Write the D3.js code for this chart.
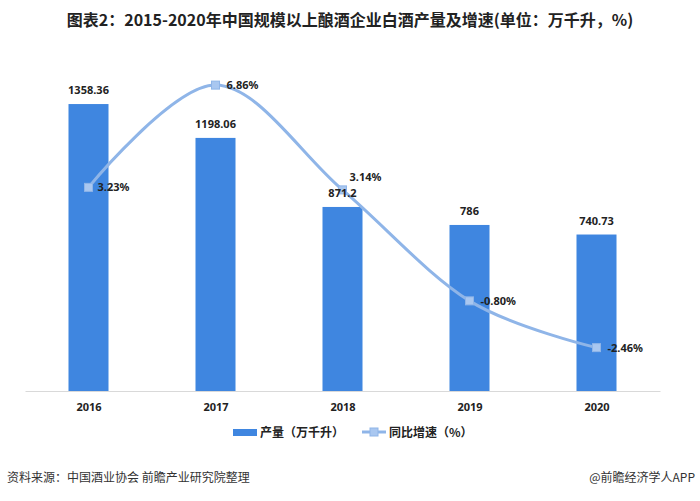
<!DOCTYPE html>
<html>
<head>
<meta charset="utf-8">
<script src="https://cdn.jsdelivr.net/npm/d3@7"></script>
<style>
  body { margin: 0; background: #fff; }
  svg { display: block; font-family: "Noto Sans CJK SC", "Noto Sans", sans-serif; }
</style>
</head>
<body>
<svg id="chart"></svg>
<script>
// data
const years = ['2016', '2017', '2018', '2019', '2020']
const output = [1358.36, 1198.06, 871.2, 786, 740.73]
const growth = [3.23, 6.86, 3.14, -0.80, -2.46]
const outputLabels = ['1358.36', '1198.06', '871.2', '786', '740.73']
const growthLabels = ['3.23%', '6.86%', '3.14%', '-0.80%', '-2.46%']

const width = 700
const height = 501
const baseY = 391
const topY = 53

const barColor = '#3f86e0'
const lineColor = '#8fb5e8'

let svg = d3.select('#chart')
    .attr('width', width)
    .attr('height', height)

let xScale = d3.scalePoint()
    .domain(years)
    .range([25, 660])
    .padding(0.5)

let yScale = d3.scaleLinear()
    .domain([0, 1600])
    .range([baseY, topY])

let y2Scale = d3.scaleLinear()
    .domain([-4, 8])
    .range([baseY, topY])

const barWidth = xScale.step() * 0.315

// title
svg.append('text')
    .attr('x', 350)
    .attr('y', 26)
    .attr('text-anchor', 'middle')
    .style('font-size', '16px')
    .style('font-weight', 'bold')
    .style('fill', '#222')
    .text('图表2：2015-2020年中国规模以上酿酒企业白酒产量及增速(单位：万千升，%)')

// bars
svg.selectAll('rect.bar')
    .data(output)
    .enter()
    .append('rect')
    .attr('class', 'bar')
    .attr('x', (d, i) => xScale(years[i]) - barWidth / 2)
    .attr('y', d => yScale(d))
    .attr('width', barWidth)
    .attr('height', d => baseY - yScale(d))
    .style('fill', barColor)

// x axis
let xAxis = d3.axisBottom(xScale).tickSize(0).tickPadding(12)
let gx = svg.append('g')
    .attr('transform', 'translate(0,' + baseY + ')')
    .call(xAxis)
gx.select('.domain').attr('stroke', '#d9d9d9').attr('stroke-width', 1)
gx.selectAll('text')
    .style('font-size', '11px')
    .style('font-weight', 'bold')
    .style('fill', '#222')
    .style('font-family', '"Noto Sans", sans-serif')

// growth line
let line = d3.line()
    .x((d, i) => xScale(years[i]))
    .y(d => y2Scale(d))
    .curve(d3.curveCatmullRom.alpha(0))

svg.append('path')
    .datum(growth)
    .attr('d', line)
    .attr('fill', 'none')
    .attr('stroke', lineColor)
    .attr('stroke-width', 3)

svg.selectAll('rect.marker')
    .data(growth)
    .enter()
    .append('rect')
    .attr('class', 'marker')
    .attr('x', (d, i) => xScale(years[i]) - 4)
    .attr('y', d => y2Scale(d) - 4)
    .attr('width', 8)
    .attr('height', 8)
    .style('fill', '#a9c7f0')
    .style('stroke', lineColor)
    .style('stroke-width', 1)

// bar labels
svg.selectAll('text.barlabel')
    .data(output)
    .enter()
    .append('text')
    .attr('class', 'barlabel')
    .attr('x', (d, i) => xScale(years[i]))
    .attr('y', d => yScale(d) - 10)
    .attr('text-anchor', 'middle')
    .style('font-size', '11px')
    .style('font-weight', 'bold')
    .style('fill', '#222')
    .style('font-family', '"Noto Sans", sans-serif')
    .text((d, i) => outputLabels[i])

// growth labels
const growthOffsets = [[9, 4], [11, 4], [7, -9], [11, 4], [11, 4]]
svg.selectAll('text.growthlabel')
    .data(growth)
    .enter()
    .append('text')
    .attr('class', 'growthlabel')
    .attr('x', (d, i) => xScale(years[i]) + growthOffsets[i][0])
    .attr('y', (d, i) => y2Scale(d) + growthOffsets[i][1])
    .style('font-size', '11px')
    .style('font-weight', 'bold')
    .style('fill', '#222')
    .style('font-family', '"Noto Sans", sans-serif')
    .text((d, i) => growthLabels[i])

// legend
let legend = svg.append('g').attr('transform', 'translate(0,432)')
legend.append('rect')
    .attr('x', 233).attr('y', -3)
    .attr('width', 24).attr('height', 7)
    .style('fill', barColor)
legend.append('text')
    .attr('x', 260).attr('y', 5)
    .style('font-size', '12px')
    .style('font-weight', 'bold')
    .style('fill', '#222')
    .text('产量（万千升）')
legend.append('line')
    .attr('x1', 362).attr('x2', 386)
    .attr('y1', 0).attr('y2', 0)
    .attr('stroke', lineColor)
    .attr('stroke-width', 3)
legend.append('rect')
    .attr('x', 370).attr('y', -4)
    .attr('width', 8).attr('height', 8)
    .style('fill', '#a9c7f0')
    .style('stroke', lineColor)
legend.append('text')
    .attr('x', 389).attr('y', 5)
    .style('font-size', '12px')
    .style('font-weight', 'bold')
    .style('fill', '#222')
    .text('同比增速（%）')

// footer
svg.append('text')
    .attr('x', 7).attr('y', 482)
    .style('font-size', '12px')
    .style('fill', '#333')
    .text('资料来源：中国酒业协会 前瞻产业研究院整理')
svg.append('text')
    .attr('x', 695).attr('y', 482)
    .attr('text-anchor', 'end')
    .style('font-size', '12px')
    .style('fill', '#333')
    .text('@前瞻经济学人APP')
</script>
</body>
</html>
